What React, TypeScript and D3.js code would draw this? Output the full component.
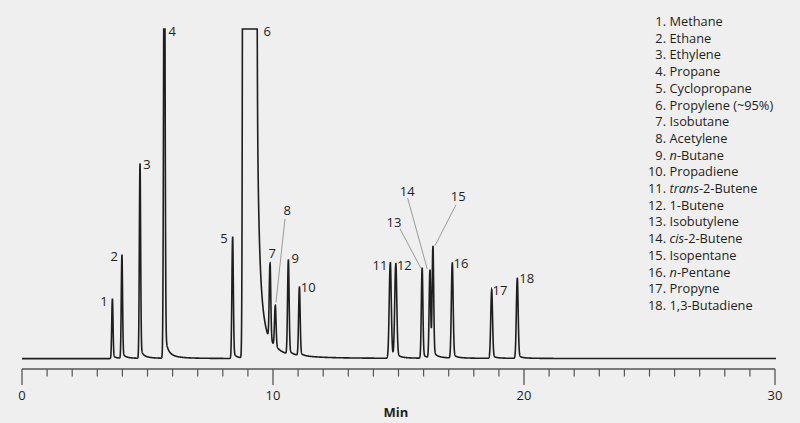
import React from "react";
import * as d3 from "d3";

// ---- Data ----
const peakNumbers = [1, 2, 3, 4, 5, 6, 7, 8, 9, 10, 11, 12, 13, 14, 15, 16, 17, 18];
const peakTimes = [3.6, 3.98, 4.7, 5.67, 8.39, 9.065, 9.88, 10.09, 10.61, 11.05, 14.67, 14.89, 15.94, 16.25, 16.37, 17.14, 18.71, 19.73];
const peakHeights = [18.0, 31.1, 58.5, 150, 36.5, 400, 23.2, 12.5, 28.3, 20.6, 28.6, 28.0, 27.1, 26.3, 32.9, 28.5, 20.5, 24.0];
const peakWidths = [0.025, 0.025, 0.025, 0.028, 0.028, 0.03, 0.03, 0.03, 0.03, 0.03, 0.04, 0.04, 0.03, 0.03, 0.03, 0.035, 0.035, 0.035];
const peakPlateaus = [0, 0, 0, 0, 0, 0.235, 0, 0, 0, 0, 0, 0, 0, 0, 0, 0, 0, 0];
const tailFractions = [0.075, 0.075, 0.075, 0.075, 0.075, 0.54, 0.075, 0.075, 0.075, 0.075, 0.075, 0.075, 0.075, 0.075, 0.075, 0.075, 0.075, 0.075];
const tailScales = [0.15, 0.15, 0.15, 0.15, 0.15, 0.11, 0.15, 0.15, 0.15, 0.15, 0.15, 0.15, 0.15, 0.15, 0.15, 0.15, 0.15, 0.15];

// legend names: [prefix italic, rest]
const compoundItalic = ["", "", "", "", "", "", "", "", "n", "", "trans", "", "", "cis", "", "n", "", ""];
const compoundRest = ["Methane", "Ethane", "Ethylene", "Propane", "Cyclopropane", "Propylene (~95%)", "Isobutane", "Acetylene", "-Butane", "Propadiene", "-2-Butene", "1-Butene", "Isobutylene", "-2-Butene", "Isopentane", "-Pentane", "Propyne", "1,3-Butadiene"];

const xTicksMajor = [0, 10, 20, 30];
const xTicksMinor = d3.range(0, 31, 1);
const xTitle = "Min";

// label placement (pixel offsets from each peak apex)
const labelDx = [-8.4, -7.6, 6.9, 8, -8.6, 17.8, 2.3, 12, 7, 8.9, -10.2, 8.6, -28.1, -22.6, 25.4, 8.8, 8.4, 9.5];
const labelDy = [1.7, 0.3, -1, 2, 0.4, 2.7, -10.7, -95.7, -2.4, 0, 1.4, 0.7, -46.6, -79.3, -51, -1, -0.3, -1];
// leader lines: [startDx from label, startDy from label, endDx from apex, endDy from apex]
const leaders: Record<number, number[]> = {
  8: [-2.3, 9, 0.7, -3.3],
  13: [6, 6.6, -1.4, -1],
  14: [0.4, 6.6, -2.6, -1.7],
  15: [-2.3, 8.3, 2.1, -1.7],
};

const W = 800;
const H = 423;
const FONT = "'Open Sans', 'Noto Sans', sans-serif";
const BG = "#efefef";
const INK = "#1e1e1e";

function signal(t: number): number {
  let s = 0;
  for (let i = 0; i < peakTimes.length; i++) {
    const c = peakTimes[i];
    const h = peakHeights[i];
    const sg = peakWidths[i];
    const pl = peakPlateaus[i];
    const d = t - c;
    const ad = Math.max(0, Math.abs(d) - pl);
    if (ad < sg * 8) s += h * Math.exp(-0.5 * (ad / sg) * (ad / sg));
    const ts = c + pl;
    const dt = t - ts;
    if (dt > 0) {
      const A = h * tailFractions[i];
      const cc = tailScales[i];
      s += (A * (1 - Math.exp(-dt / 0.01))) / ((1 + dt / cc) * (1 + dt / cc));
    }
  }
  return s;
}

export default function App() {
  const x = d3.scaleLinear().domain([0, 30]).range([22, 775]);
  const y = d3.scaleLinear().domain([0, 100]).range([358.6, 29]);
  const axisY = 369;

  const samples = d3.range(0, 30.04, 0.003).map((t) => [t, Math.min(100, signal(t))] as [number, number]);
  const line = d3
    .line<[number, number]>()
    .x((d) => x(d[0]))
    .y((d) => y(d[1]));
  const path = line(samples) || "";

  const fsLabel = 13;
  const fsLegend = 12.8;

  return (
    <div>
      <style>{`body{margin:0;background:${BG};}`}</style>
      <svg width={W} height={H} style={{ display: "block", background: BG }} fontFamily={FONT}>
        <rect x={0} y={0} width={W} height={H} fill={BG} />
        {/* trace */}
        <path d={path} fill="none" stroke={INK} strokeWidth={1.6} strokeLinejoin="miter" />

        {/* axis */}
        <line x1={x(0)} x2={x(30)} y1={axisY} y2={axisY} stroke="#555" strokeWidth={1.3} />
        {xTicksMinor
          .filter((t) => !xTicksMajor.includes(t))
          .map((t) => (
            <line key={"m" + t} x1={x(t)} x2={x(t)} y1={axisY} y2={axisY + 7.5} stroke="#555" strokeWidth={1.2} />
          ))}
        {xTicksMajor.map((t) => (
          <g key={"M" + t}>
            <line x1={x(t)} x2={x(t)} y1={axisY} y2={axisY + 16} stroke="#555" strokeWidth={1.3} />
            <text x={x(t)} y={399.5} textAnchor="middle" fontSize={13} fill={INK}>
              {t}
            </text>
          </g>
        ))}
        <text x={396} y={416.5} textAnchor="middle" fontSize={13} fontWeight="bold" fill={INK}>
          {xTitle}
        </text>

        {/* peak labels */}
        {peakNumbers.map((n, i) => {
          const ax = x(peakTimes[i]);
          const ay = y(Math.min(100, signal(peakTimes[i])));
          const lx = ax + labelDx[i];
          const ly = ay + labelDy[i];
          const ld = leaders[n];
          return (
            <g key={"p" + n}>
              {ld && (
                <line
                  x1={lx + ld[0]}
                  y1={ly + ld[1]}
                  x2={ax + ld[2]}
                  y2={ay + ld[3]}
                  stroke="#9a9a9a"
                  strokeWidth={1}
                />
              )}
              <text x={lx} y={ly + 4.7} textAnchor="middle" fontSize={fsLabel} fill={INK}>
                {n}
              </text>
            </g>
          );
        })}

        {/* legend */}
        {peakNumbers.map((n, i) => {
          const by = 26 + i * 16.7;
          return (
            <g key={"l" + n}>
              <text x={666} y={by} textAnchor="end" fontSize={fsLegend} fill={INK}>
                {n + "."}
              </text>
              <text x={669.5} y={by} fontSize={fsLegend} fill={INK}>
                {compoundItalic[i] && <tspan fontStyle="italic">{compoundItalic[i]}</tspan>}
                <tspan>{compoundRest[i]}</tspan>
              </text>
            </g>
          );
        })}
      </svg>
    </div>
  );
}
